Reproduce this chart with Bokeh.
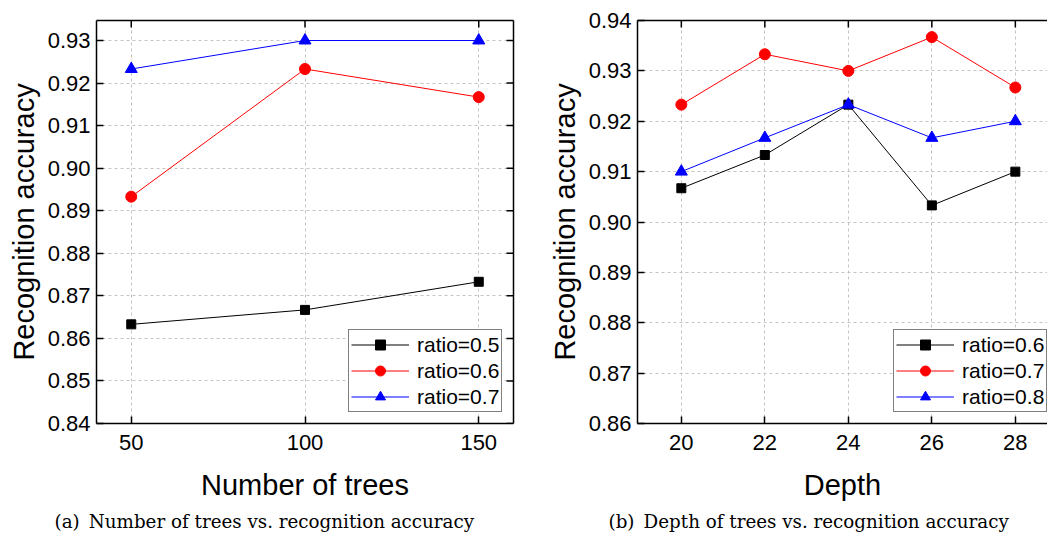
import math
from bokeh.plotting import figure
from bokeh.layouts import row
from bokeh.models import (LinearAxis, FixedTicker, PrintfTickFormatter, Title, Range1d)
from bokeh.embed import file_html
from bokeh.resources import INLINE

# ---- data: panel (a) ----
trees = [50, 100, 150]
acc_a_05 = [0.8633, 0.8667, 0.8733]
acc_a_06 = [0.8933, 0.9233, 0.9167]
acc_a_07 = [0.9233, 0.9300, 0.9300]
labels_a = ["ratio=0.5", "ratio=0.6", "ratio=0.7"]
yticks_a = [0.84, 0.85, 0.86, 0.87, 0.88, 0.89, 0.90, 0.91, 0.92, 0.93]

# ---- data: panel (b) ----
depth = [20, 22, 24, 26, 28]
acc_b_06 = [0.9067, 0.9133, 0.9233, 0.9033, 0.9100]
acc_b_07 = [0.9233, 0.9333, 0.9300, 0.9367, 0.9267]
acc_b_08 = [0.9100, 0.9167, 0.9233, 0.9167, 0.9200]
labels_b = ["ratio=0.6", "ratio=0.7", "ratio=0.8"]
yticks_b = [0.86, 0.87, 0.88, 0.89, 0.90, 0.91, 0.92, 0.93, 0.94]

caption_a = "(a)\u2002Number of trees vs. recognition accuracy"
caption_b = "(b)\u2002Depth of trees vs. recognition accuracy"

SANS = "Liberation Sans"
SERIF = "DejaVu Serif"


def style_axis(ax):
    ax.axis_line_width = 1.5
    ax.axis_line_color = "black"
    ax.major_tick_in = 7
    ax.major_tick_out = 0
    ax.major_tick_line_width = 1.5
    ax.major_tick_line_color = "black"
    ax.minor_tick_line_color = None
    ax.major_label_text_font = SANS
    ax.major_label_text_font_size = "22px"
    ax.major_label_text_color = "black"
    ax.axis_label_text_font = SANS
    ax.axis_label_text_font_size = "29px"
    ax.axis_label_text_font_style = "normal"
    ax.axis_label_text_color = "black"


def bare_axis():
    ax = LinearAxis(ticker=FixedTicker(ticks=[]))
    ax.axis_line_width = 1.5
    ax.axis_line_color = "black"
    ax.major_tick_line_color = None
    ax.minor_tick_line_color = None
    return ax


def make_panel(xs, series, labels, xticks, yticks, xr, yr, xlabel, caption,
               width, left, right, right_axis, legend_x, cap_offset):
    p = figure(width=width, height=536, output_backend="svg", toolbar_location=None,
               x_range=Range1d(*xr), y_range=Range1d(*yr),
               min_border_left=left, min_border_right=right,
               min_border_top=20, min_border_bottom=110)
    p.outline_line_color = None
    p.background_fill_color = "white"
    p.border_fill_color = "white"

    p.xaxis.ticker = FixedTicker(ticks=xticks)
    p.yaxis.ticker = FixedTicker(ticks=yticks)
    p.yaxis.formatter = PrintfTickFormatter(format="%.2f")
    p.xaxis.axis_label = xlabel
    p.yaxis.axis_label = "Recognition accuracy"
    style_axis(p.xaxis[0])
    style_axis(p.yaxis[0])
    p.xaxis.major_label_standoff = 11
    p.xaxis.axis_label_standoff = 16
    p.yaxis.major_label_standoff = 6
    p.yaxis.axis_label_standoff = 5

    p.add_layout(bare_axis(), "above")
    # inward ticks along the top edge (dash markers clipped by the frame)
    p.scatter(xticks, [yr[1]] * len(xticks), marker="dash", size=14, angle=math.pi / 2,
              line_color="black", line_width=1.5)
    if right_axis:
        p.add_layout(bare_axis(), "right")
        p.scatter([xr[1]] * len(yticks), yticks, marker="dash", size=14,
                  line_color="black", line_width=1.5)

    p.grid.grid_line_color = "#c4c4c4"
    p.grid.grid_line_dash = "3 3"
    p.grid.grid_line_width = 1

    colors = ["black", "#ff0000", "#0000ff"]
    markers = ["square", "circle", "triangle"]
    sizes = [9, 11, 12]
    for ys, lab, c, m, s in zip(series, labels, colors, markers, sizes):
        p.line(xs, ys, line_color=c, line_width=1, legend_label=lab)
        p.scatter(xs, ys, marker=m, size=s, fill_color=c, line_color=c, legend_label=lab)

    lg = p.legend[0]
    lg.location = (legend_x, 11)
    lg.border_line_color = "black"
    lg.border_line_width = 1
    lg.background_fill_alpha = 1
    lg.label_text_font = SANS
    lg.label_text_font_size = "21px"
    lg.label_text_color = "black"
    lg.padding = 2
    lg.margin = 0
    lg.spacing = 1
    lg.glyph_width = 58
    lg.glyph_height = 25
    lg.label_height = 25
    lg.label_standoff = 8

    p.add_layout(Title(text=caption, text_font=SERIF, text_font_size="18.3px",
                       text_font_style="normal", align="left", offset=cap_offset,
                       text_color="black"), "below")
    return p


pa = make_panel(trees, [acc_a_05, acc_a_06, acc_a_07], labels_a, trees, yticks_a,
                (40, 160), (0.84, 0.9347), "Number of trees", caption_a,
                width=520, left=96, right=7, right_axis=True, legend_x=252, cap_offset=-42)
pb = make_panel(depth, [acc_b_06, acc_b_07, acc_b_08], labels_b, depth, yticks_b,
                (18.95, 28.77), (0.86, 0.94), "Depth", caption_b,
                width=527, left=117, right=0, right_axis=False, legend_x=256, cap_offset=-29)

layout = row(pa, pb)
open("out.html", "w").write(file_html(layout, INLINE))
